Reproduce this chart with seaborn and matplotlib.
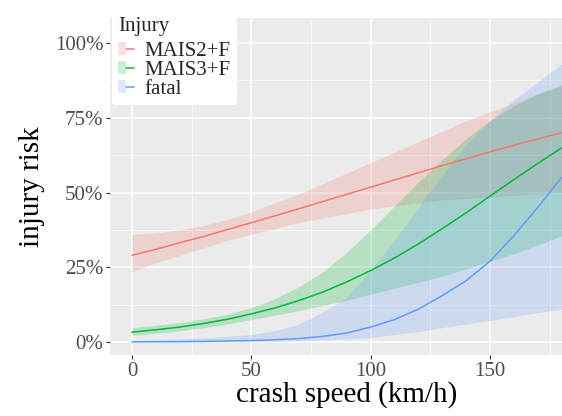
import matplotlib
matplotlib.use("Agg")
import matplotlib.pyplot as plt
from matplotlib.patches import Patch
from matplotlib.lines import Line2D
from matplotlib.legend_handler import HandlerTuple
from matplotlib.ticker import PercentFormatter, MultipleLocator
import numpy as np
import pandas as pd
import seaborn as sns

# crash speed grid (km/h)
speed = [0, 10, 20, 30, 40, 50, 60, 70, 80, 90, 100, 110, 120, 130, 140, 150, 160, 170, 180]

# predicted risk (%) with lower / upper confidence limits
mais2_fit = [29.0, 31.0, 33.2, 35.3, 37.6, 39.9, 42.2, 44.6, 47.0, 49.4, 51.8, 54.2, 56.6, 59.0, 61.3, 63.6, 65.8, 67.9, 70.0]
mais2_lo = [23.5, 26.5, 29.0, 31.5, 34.0, 36.0, 38.0, 40.0, 41.5, 43.0, 44.5, 45.5, 46.5, 47.5, 48.0, 48.5, 49.0, 49.5, 50.0]
mais2_hi = [36.0, 36.5, 37.5, 39.0, 41.0, 43.5, 46.5, 49.5, 53.0, 56.5, 60.0, 63.5, 67.0, 70.5, 74.0, 77.0, 80.0, 83.0, 85.5]

mais3_fit = [3.3, 4.1, 5.0, 6.2, 7.6, 9.4, 11.4, 13.9, 16.7, 20.1, 23.9, 28.1, 32.8, 37.9, 43.2, 48.8, 54.3, 59.7, 64.9]
mais3_lo = [2.2, 2.9, 3.7, 4.8, 6.0, 7.5, 9.0, 10.5, 12.2, 14.0, 16.0, 18.0, 20.0, 22.0, 24.5, 27.0, 29.5, 32.5, 35.5]
mais3_hi = [4.8, 5.6, 6.5, 7.8, 9.3, 11.5, 14.5, 18.5, 23.5, 30.0, 37.5, 45.5, 53.5, 61.0, 68.0, 74.0, 79.0, 83.0, 86.0]

fatal_fit = [0.06, 0.09, 0.14, 0.21, 0.33, 0.5, 0.75, 1.14, 1.9, 3.0, 5.0, 7.5, 11.0, 15.5, 20.5, 27.0, 35.5, 45.0, 55.0]
fatal_lo = [0.0, 0.0, 0.0, 0.0, 0.05, 0.1, 0.2, 0.4, 0.7, 1.0, 1.5, 2.5, 3.5, 4.8, 6.0, 7.2, 8.5, 9.8, 11.0]
fatal_hi = [0.5, 0.7, 1.0, 1.4, 1.9, 2.5, 3.8, 6.0, 10.0, 15.0, 24.0, 34.0, 45.0, 56.0, 66.0, 74.0, 81.0, 87.0, 93.0]

groups = ["MAIS2+F", "MAIS3+F", "fatal"]
colors = ["#F8766D", "#00BA38", "#619CFF"]

frames = []
for name, fit, lo, hi in zip(groups,
                             [mais2_fit, mais3_fit, fatal_fit],
                             [mais2_lo, mais3_lo, fatal_lo],
                             [mais2_hi, mais3_hi, fatal_hi]):
    frames.append(pd.DataFrame({"speed": speed,
                                "risk": np.array(fit) / 100,
                                "lo": np.array(lo) / 100,
                                "hi": np.array(hi) / 100,
                                "Injury": name}))
df = pd.concat(frames, ignore_index=True)

sns.set_theme(style="darkgrid")
plt.rcParams["font.family"] = ["Liberation Serif", "DejaVu Serif"]

fig = plt.figure(figsize=(5.62, 4.16), dpi=100)
ax = fig.add_axes([0.1966, 0.1466, 0.8407, 0.810])
ax.set_facecolor("#EBEBEB")

for name, col in zip(groups, colors):
    sub = df[df["Injury"] == name]
    ax.fill_between(sub["speed"], sub["lo"], sub["hi"], color=col, alpha=0.22, linewidth=0)

sns.lineplot(data=df, x="speed", y="risk", hue="Injury", palette=colors,
             hue_order=groups, linewidth=1.1, ax=ax, legend=False)

ax.set_xlim(-9, 189)
ax.set_ylim(-0.0435, 1.0836)
ax.xaxis.set_major_locator(MultipleLocator(50))
ax.xaxis.set_minor_locator(MultipleLocator(25))
ax.yaxis.set_major_locator(MultipleLocator(0.25))
ax.yaxis.set_minor_locator(MultipleLocator(0.125))
ax.yaxis.set_major_formatter(PercentFormatter(xmax=1, decimals=0))
ax.grid(which="major", color="white", linewidth=1.1)
ax.grid(which="minor", color="white", linewidth=0.5)
for s in ax.spines.values():
    s.set_visible(False)
ax.tick_params(which="major", length=3, width=0.8, color="#333333",
               labelcolor="#4D4D4D", labelsize=15, pad=2)
ax.tick_params(which="minor", length=0)
ax.tick_params(axis="x", bottom=True)
ax.tick_params(axis="y", left=True)

ax.set_xlabel("crash speed (km/h)", fontsize=21, color="black", labelpad=0)
ax.set_ylabel("injury risk", fontsize=21, color="black", labelpad=7)

handles = [(Patch(facecolor=c, alpha=0.22, edgecolor="none"),
            Line2D([], [], color=c, linewidth=1.1)) for c in colors]
leg = fig.legend(handles, groups, title="Injury",
                 handler_map={tuple: HandlerTuple(ndivide=None, pad=0)},
                 loc="upper left", bbox_to_anchor=(112 / 562, 1 - 11 / 416),
                 frameon=True, fontsize=15, title_fontsize=15,
                 handlelength=0.75, handleheight=0.6, handletextpad=0.5,
                 labelspacing=0.0, borderpad=0.3, borderaxespad=0)
leg.get_frame().set_facecolor("white")
leg.get_frame().set_edgecolor("none")
leg.get_frame().set_alpha(1)
leg._legend_box.align = "left"
leg._legend_box.sep = 4

fig.savefig("out.png", dpi=100)
